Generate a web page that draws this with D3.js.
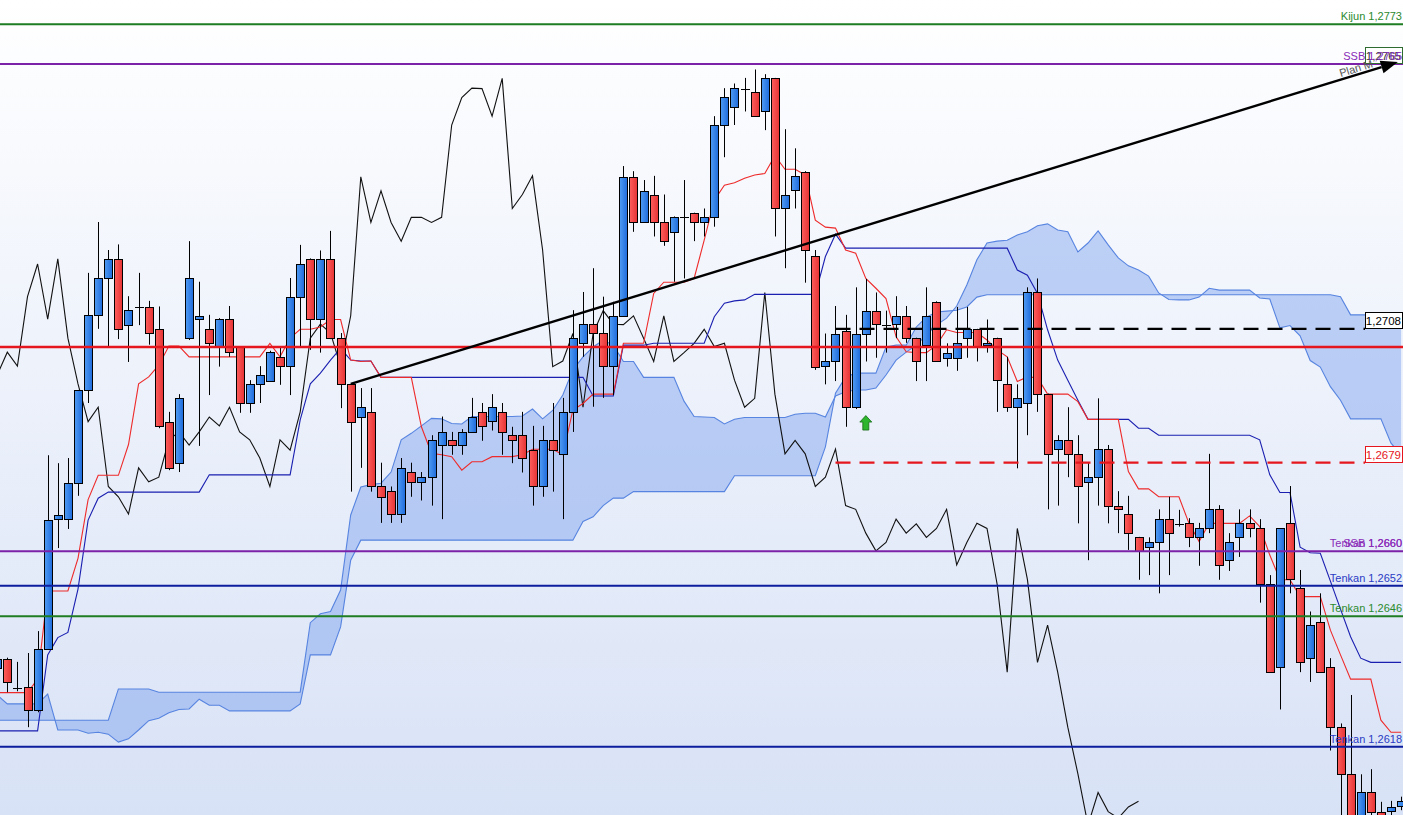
<!DOCTYPE html>
<html>
<head>
<meta charset="utf-8">
<script src="https://cdn.jsdelivr.net/npm/d3@7/dist/d3.min.js"></script>
<style>
html,body{margin:0;padding:0;background:#fff;overflow:hidden;}
svg{display:block;font-family:"Liberation Sans",Arial,sans-serif;}
</style>
</head>
<body>
<svg id="chart" width="1403" height="815"></svg>
<script>
// ---------- DATA ----------
const opens = [
1.26350,1.26369,1.26309,1.26309,1.26260,1.26390,1.26669,1.26669,1.26746,1.26946,
1.27106,1.27186,1.27227,1.27086,1.27124,1.27124,1.27077,1.26878,1.26789,1.27057,
1.27098,1.27077,1.27040,1.27098,1.27038,1.26918,1.26959,1.26966,1.27017,1.26997,
1.27146,1.27227,1.27098,1.27227,1.27057,1.26959,1.26888,1.26899,1.26739,1.26729,
1.26680,1.26770,1.26749,1.26759,1.26828,1.26839,1.26828,1.26856,1.26899,1.26880,
1.26899,1.26849,1.26849,1.26817,1.26739,1.26839,1.26809,1.26899,1.27047,1.27087,
1.27068,1.26997,1.27105,1.27403,1.27305,1.27365,1.27305,1.27285,1.27317,1.27325,
1.27305,1.27316,1.27514,1.27553,1.27593,1.27584,1.27544,1.27614,1.27335,1.27375,
1.27414,1.27234,1.26997,1.27008,1.27072,1.26909,1.27067,1.27116,1.27087,1.27087,
1.27105,1.27057,1.27042,1.27135,1.27015,1.27015,1.27057,1.27076,1.27042,1.27057,
1.26958,1.26909,1.26917,1.27155,1.26937,1.26819,1.26838,1.26809,1.26748,1.26759,
1.26819,1.26698,1.26679,1.26630,1.26609,1.26619,1.26669,1.26660,1.26660,1.26630,
1.26649,1.26690,1.26581,1.26630,1.26660,1.26649,1.26530,1.26351,1.26660,1.26521,
1.26371,1.26449,1.26351,1.26223,1.26123,1.26024,1.26083,1.26042,1.26043,1.26053];
const highs = [
1.26378,1.26372,1.26363,1.26382,1.26429,1.26806,1.26789,1.26800,1.26946,1.27197,
1.27306,1.27246,1.27258,1.27147,1.27197,1.27137,1.27125,1.26899,1.26937,1.27265,
1.27178,1.27107,1.27100,1.27126,1.27040,1.26967,1.26997,1.27030,1.27036,1.27186,
1.27257,1.27228,1.27245,1.27287,1.27068,1.26960,1.26950,1.26950,1.26790,1.26739,
1.26800,1.26790,1.26770,1.26849,1.26889,1.26856,1.26862,1.26929,1.26918,1.26937,
1.26918,1.26867,1.26899,1.26869,1.26869,1.26918,1.26929,1.27117,1.27156,1.27207,
1.27146,1.27135,1.27426,1.27415,1.27396,1.27405,1.27365,1.27318,1.27396,1.27326,
1.27335,1.27533,1.27593,1.27603,1.27615,1.27633,1.27623,1.27615,1.27505,1.27464,
1.27415,1.27246,1.27067,1.27126,1.27107,1.27166,1.27184,1.27155,1.27116,1.27147,
1.27126,1.27058,1.27166,1.27136,1.27046,1.27124,1.27124,1.27077,1.27097,1.27058,
1.27017,1.26958,1.27166,1.27185,1.26938,1.26849,1.26909,1.26849,1.26789,1.26928,
1.26828,1.26729,1.26719,1.26631,1.26630,1.26690,1.26717,1.26689,1.26671,1.26661,
1.26809,1.26699,1.26639,1.26690,1.26690,1.26669,1.26549,1.26650,1.26740,1.26560,
1.26471,1.26510,1.26371,1.26231,1.26292,1.26122,1.26133,1.26063,1.26065,1.26074];
const lows = [
1.26341,1.26298,1.26300,1.26223,1.26255,1.26390,1.26607,1.26648,1.26719,1.26918,
1.27077,1.27040,1.27055,1.27006,1.27085,1.27043,1.26864,1.26774,1.26770,1.27053,
1.26826,1.26935,1.26996,1.27017,1.26897,1.26897,1.26918,1.26965,1.26957,1.26935,
1.27040,1.27032,1.27026,1.27055,1.26907,1.26728,1.26779,1.26728,1.26661,1.26661,
1.26661,1.26717,1.26709,1.26698,1.26669,1.26807,1.26807,1.26855,1.26837,1.26859,
1.26807,1.26789,1.26769,1.26698,1.26717,1.26728,1.26669,1.26856,1.27017,1.26910,
1.26929,1.26935,1.27104,1.27285,1.27304,1.27275,1.27255,1.27178,1.27185,1.27265,
1.27275,1.27296,1.27445,1.27514,1.27543,1.27532,1.27503,1.27275,1.27207,1.27335,
1.27176,1.26989,1.26958,1.26965,1.26867,1.26905,1.27007,1.27015,1.27026,1.27057,
1.27047,1.26965,1.26965,1.27006,1.26996,1.26987,1.27015,1.27007,1.27026,1.26899,
1.26899,1.26778,1.26849,1.26899,1.26690,1.26698,1.26759,1.26660,1.26581,1.26698,
1.26660,1.26639,1.26603,1.26539,1.26549,1.26510,1.26549,1.26653,1.26609,1.26569,
1.26639,1.26539,1.26558,1.26588,1.26630,1.26490,1.26340,1.26261,1.26510,1.26341,
1.26320,1.26340,1.26173,1.26024,1.25981,1.26003,1.26024,1.26013,1.26024,1.26045];
const closes = [
1.26369,1.26320,1.26308,1.26260,1.26390,1.26667,1.26678,1.26746,1.26946,1.27106,
1.27186,1.27227,1.27077,1.27117,1.27123,1.27068,1.26868,1.26778,1.26929,1.27186,
1.27105,1.27047,1.27098,1.27027,1.26918,1.26959,1.26978,1.27027,1.26997,1.27146,
1.27216,1.27098,1.27227,1.27057,1.26959,1.26878,1.26909,1.26739,1.26717,1.26680,
1.26779,1.26749,1.26759,1.26839,1.26856,1.26828,1.26856,1.26888,1.26869,1.26909,
1.26856,1.26839,1.26800,1.26739,1.26839,1.26817,1.26899,1.27057,1.27087,1.27068,
1.26997,1.27105,1.27403,1.27305,1.27373,1.27305,1.27265,1.27316,1.27316,1.27305,
1.27316,1.27514,1.27573,1.27593,1.27592,1.27533,1.27614,1.27335,1.27365,1.27405,
1.27246,1.26996,1.27008,1.27067,1.26909,1.27067,1.27116,1.27087,1.27086,1.27105,
1.27057,1.27007,1.27105,1.27007,1.27026,1.27046,1.27076,1.27039,1.27046,1.26967,
1.26909,1.26928,1.27155,1.26937,1.26809,1.26838,1.26809,1.26739,1.26759,1.26819,
1.26698,1.26690,1.26639,1.26601,1.26619,1.26669,1.26639,1.26659,1.26630,1.26649,
1.26690,1.26571,1.26619,1.26660,1.26649,1.26530,1.26341,1.26649,1.26540,1.26362,
1.26442,1.26341,1.26223,1.26123,1.26013,1.26083,1.26042,1.26028,1.26052,1.26064];
const tenkan = [
1.26297,1.26297,1.26297,1.26297,1.26326,1.26515,1.26515,1.26515,1.26585,1.26711,
1.26763,1.26763,1.26763,1.26829,1.26959,1.26974,1.26999,1.27040,1.27040,1.27017,
1.27017,1.27017,1.27017,1.27017,1.27017,1.27017,1.27017,1.27046,1.27017,1.27057,
1.27076,1.27076,1.27081,1.27097,1.27097,1.27010,1.27007,1.27008,1.26973,1.26973,
1.26973,1.26973,1.26867,1.26810,1.26807,1.26803,1.26774,1.26792,1.26792,1.26803,
1.26803,1.26803,1.26807,1.26819,1.26819,1.26819,1.26807,1.26903,1.26917,1.26937,
1.26937,1.26937,1.27046,1.27046,1.27046,1.27153,1.27177,1.27177,1.27177,1.27185,
1.27267,1.27353,1.27385,1.27390,1.27400,1.27407,1.27410,1.27448,1.27419,1.27419,
1.27407,1.27310,1.27295,1.27293,1.27246,1.27239,1.27185,1.27164,1.27142,1.27060,
1.27028,1.27026,1.27026,1.27042,1.27075,1.27069,1.27069,1.27069,1.27053,1.27032,
1.27017,1.26964,1.26974,1.26972,1.26937,1.26937,1.26937,1.26921,1.26883,1.26883,
1.26883,1.26883,1.26771,1.26734,1.26734,1.26717,1.26717,1.26717,1.26660,1.26621,
1.26660,1.26660,1.26660,1.26660,1.26676,1.26653,1.26592,1.26539,1.26539,1.26503,
1.26503,1.26503,1.26431,1.26378,1.26326,1.26326,1.26326,1.26238,1.26212,1.26212];
const kijun = [
1.26215,1.26215,1.26215,1.26215,1.26215,1.26378,1.26415,1.26426,1.26519,1.26667,
1.26714,1.26727,1.26727,1.26727,1.26727,1.26727,1.26727,1.26727,1.26727,1.26727,
1.26727,1.26764,1.26764,1.26764,1.26764,1.26764,1.26764,1.26764,1.26764,1.26764,
1.26882,1.26959,1.26982,1.27010,1.27035,1.27010,1.27008,1.27008,1.26973,1.26973,
1.26973,1.26973,1.26973,1.26973,1.26973,1.26973,1.26973,1.26973,1.26973,1.26973,
1.26973,1.26973,1.26973,1.26973,1.26973,1.26973,1.26973,1.26973,1.26973,1.26933,
1.26933,1.26933,1.27042,1.27042,1.27042,1.27046,1.27046,1.27046,1.27046,1.27046,
1.27046,1.27103,1.27132,1.27137,1.27139,1.27151,1.27151,1.27151,1.27151,1.27151,
1.27151,1.27151,1.27232,1.27280,1.27250,1.27250,1.27250,1.27250,1.27250,1.27250,
1.27250,1.27250,1.27250,1.27250,1.27250,1.27250,1.27250,1.27250,1.27250,1.27250,
1.27250,1.27203,1.27192,1.27153,1.27075,1.27010,1.26967,1.26924,1.26883,1.26883,
1.26883,1.26883,1.26883,1.26864,1.26864,1.26849,1.26849,1.26849,1.26849,1.26849,
1.26849,1.26849,1.26849,1.26849,1.26849,1.26839,1.26764,1.26726,1.26726,1.26609,
1.26597,1.26596,1.26536,1.26476,1.26417,1.26371,1.26362,1.26362,1.26362,1.26362];
const spanA = [
1.26292,1.26273,1.26273,1.26273,1.26273,1.26294,1.26217,1.26217,1.26217,1.26210,
1.26212,1.26208,1.26191,1.26198,1.26217,1.26237,1.26242,1.26254,1.26261,1.26262,
1.26283,1.26270,1.26270,1.26258,1.26258,1.26258,1.26258,1.26258,1.26258,1.26258,
1.26273,1.26378,1.26378,1.26378,1.26438,1.26581,1.26624,1.26624,1.26624,1.26624,
1.26624,1.26624,1.26624,1.26624,1.26624,1.26624,1.26624,1.26624,1.26624,1.26624,
1.26624,1.26624,1.26624,1.26624,1.26624,1.26624,1.26624,1.26624,1.26664,1.26674,
1.26698,1.26714,1.26714,1.26728,1.26728,1.26728,1.26728,1.26728,1.26728,1.26728,
1.26728,1.26728,1.26728,1.26762,1.26762,1.26762,1.26762,1.26762,1.26762,1.26762,
1.26762,1.26762,1.26824,1.26939,1.26974,1.26982,1.26982,1.26982,1.27038,1.27042,
1.27042,1.27081,1.27102,1.27113,1.27115,1.27117,1.27124,1.27145,1.27150,1.27150,
1.27150,1.27150,1.27150,1.27150,1.27150,1.27150,1.27150,1.27150,1.27150,1.27150,
1.27150,1.27150,1.27150,1.27150,1.27150,1.27150,1.27150,1.27150,1.27150,1.27150,
1.27150,1.27150,1.27150,1.27150,1.27150,1.27150,1.27150,1.27150,1.27150,1.27150,
1.27150,1.27150,1.27150,1.27146,1.27107,1.27107,1.27107,1.27107,1.27107,1.27107];
const spanB = [
1.26238,1.26238,1.26238,1.26238,1.26238,1.26238,1.26238,1.26238,1.26238,1.26238,
1.26238,1.26238,1.26305,1.26305,1.26305,1.26305,1.26298,1.26298,1.26298,1.26298,
1.26298,1.26298,1.26298,1.26298,1.26298,1.26298,1.26298,1.26298,1.26298,1.26298,
1.26298,1.26447,1.26466,1.26471,1.26517,1.26678,1.26738,1.26743,1.26746,1.26770,
1.26839,1.26853,1.26869,1.26885,1.26884,1.26874,1.26873,1.26889,1.26889,1.26889,
1.26889,1.26889,1.26890,1.26905,1.26884,1.26902,1.26935,1.26989,1.27017,1.27038,
1.27053,1.27042,1.27007,1.27007,1.26973,1.26973,1.26973,1.26973,1.26922,1.26889,
1.26888,1.26887,1.26873,1.26883,1.26887,1.26887,1.26887,1.26887,1.26887,1.26894,
1.26896,1.26896,1.26888,1.26933,1.26942,1.26946,1.26946,1.26950,1.26978,1.27010,
1.27027,1.27042,1.27064,1.27085,1.27100,1.27126,1.27171,1.27225,1.27261,1.27265,
1.27267,1.27278,1.27285,1.27298,1.27302,1.27289,1.27285,1.27242,1.27261,1.27287,
1.27257,1.27229,1.27212,1.27203,1.27190,1.27154,1.27140,1.27139,1.27139,1.27145,
1.27164,1.27160,1.27160,1.27160,1.27160,1.27143,1.27141,1.27079,1.27084,1.27062,
1.27009,1.26995,1.26953,1.26924,1.26884,1.26884,1.26884,1.26884,1.26832,1.26807];
const chikouLag = 26;

// horizontal levels
const levelValues = [1.27730, 1.27645, 1.27038, 1.26600, 1.26526, 1.26461, 1.26181];
const levelLabels = ["Kijun 1,2773", "SSB 1,2765", "", "Tenkan 1,2660", "Tenkan 1,2652", "Tenkan 1,2646", "Tenkan 1,2618"];
const extraLevelLabels = [{value: 1.26600, text: "SSB 1,2660"}];
// price tags (boxes) and dashed lines
const tagValues = [1.27645, 1.27077, 1.26790];
const tagLabels = ["1,2765", "1,2708", "1,2679"];
const dashedStartIndex = 83;
// annotations
const trendFrom = {index: 35, price: 1.26959};
const trendTo = {index: 138.68, price: 1.27649};
const trendText = "Plan M";
const signal = {index: 86, price: 1.26875};

// ---------- DRAW ----------
const W = 1403, H = 815;
const svg = d3.select("#chart");
const defs = svg.append("defs");
const bg = defs.append("linearGradient").attr("id","bg").attr("x1",0).attr("y1",0).attr("x2",0).attr("y2",1);
bg.append("stop").attr("offset","0%").attr("stop-color","#ffffff");
bg.append("stop").attr("offset","100%").attr("stop-color","#d8e2f6");
const gb = defs.append("linearGradient").attr("id","gBlue").attr("x1",0).attr("y1",0).attr("x2",1).attr("y2",0);
gb.append("stop").attr("offset","0%").attr("stop-color","#4f9cf4");
gb.append("stop").attr("offset","100%").attr("stop-color","#1f6bdc");
const gr = defs.append("linearGradient").attr("id","gRed").attr("x1",0).attr("y1",0).attr("x2",1).attr("y2",0);
gr.append("stop").attr("offset","0%").attr("stop-color","#ff5e5e");
gr.append("stop").attr("offset","100%").attr("stop-color","#e53333");

svg.append("rect").attr("width",W).attr("height",H).attr("fill","url(#bg)");

const x = d3.scaleLinear().domain([0, 139]).range([-2.8, 1401.1]);
const y = d3.scaleLinear().domain([1.26, 1.27782]).range([831.2, 0]);
const idx = d3.range(opens.length);

// cloud
svg.append("path").datum(idx)
  .attr("d", d3.area().x(i=>x(i)).y0(i=>y(spanA[i])).y1(i=>y(spanB[i])))
  .attr("fill","#7099ec").attr("fill-opacity",0.42);
[spanA, spanB].forEach(s => {
  svg.append("path").datum(idx)
    .attr("d", d3.line().x(i=>x(i)).y(i=>y(s[i])))
    .attr("fill","none").attr("stroke","#5784e0").attr("stroke-width",1.1);
});

// chikou (close shifted back)
svg.append("path").datum(d3.range(closes.length - chikouLag))
  .attr("d", d3.line().x(j=>x(j)).y(j=>y(closes[j + chikouLag])))
  .attr("fill","none").attr("stroke","#111").attr("stroke-width",1.1);
// kijun
svg.append("path").datum(idx)
  .attr("d", d3.line().x(i=>x(i)).y(i=>y(kijun[i])))
  .attr("fill","none").attr("stroke","#1a1fb0").attr("stroke-width",1.1);
// tenkan
svg.append("path").datum(idx)
  .attr("d", d3.line().x(i=>x(i)).y(i=>y(tenkan[i])))
  .attr("fill","none").attr("stroke","#ee2a2a").attr("stroke-width",1.1);

// candles
const bw = Math.round((x(1) - x(0)) * 0.8);
const cg = svg.append("g");
idx.forEach(i => {
  const o = opens[i], c = closes[i], h = highs[i], l = lows[i];
  const cx = Math.round(x(i)) + 0.5;
  cg.append("line").attr("x1",cx).attr("x2",cx).attr("y1",y(h)).attr("y2",y(l))
    .attr("stroke","#000").attr("stroke-width",1);
  const top = Math.round(y(Math.max(o,c))) + 0.5;
  const bot = Math.round(y(Math.min(o,c))) + 0.5;
  const doji = Math.abs(o - c) < 0.00003;
  cg.append("rect")
    .attr("x", Math.round(x(i) - bw/2) + 0.5).attr("y", doji ? Math.round(y(c)) + 0.5 : top)
    .attr("width", bw).attr("height", doji ? 0.01 : Math.max(1, bot - top))
    .attr("fill", doji ? "none" : (c > o ? "url(#gBlue)" : "url(#gRed)"))
    .attr("stroke","#000").attr("stroke-width",1);
});

// horizontal levels
const levelColors = ["#1e7d22","#7b22a8","#e5161d","#7b22a8","#0c1d9e","#1e7d22","#0c1d9e"];
const levelText = ["#2a8a2e","#8a2bb8","#e5161d","#8a2bb8","#2a3bc4","#2a8a2e","#2a3bc4"];
const levelWidth = [2,2,2.6,2,2,2,2];
levelValues.forEach((v,k) => {
  svg.append("line").attr("x1",0).attr("x2",W).attr("y1",y(v)).attr("y2",y(v))
    .attr("stroke",levelColors[k]).attr("stroke-width",levelWidth[k]);
});

// dashed lines
const tagColors = ["#2e6b2e","#000000","#e5161d"];
tagValues.forEach((v,k) => {
  if (k === 0) return;
  svg.append("line").attr("x1",x(dashedStartIndex)).attr("x2",W - 38).attr("y1",y(v)).attr("y2",y(v))
    .attr("stroke",tagColors[k]).attr("stroke-width",2.2).attr("stroke-dasharray","15,9");
});
// price tag boxes
tagValues.forEach((v,k) => {
  const yy = y(v);
  svg.append("rect").attr("x",W-37.5).attr("y",Math.round(yy)-16.5).attr("width",37).attr("height",16)
    .attr("fill","#ffffff").attr("stroke",tagColors[k]).attr("stroke-width",1);
  svg.append("text").attr("x",W-2).attr("y",Math.round(yy)-4).attr("text-anchor","end")
    .attr("font-size",11.5).attr("fill", k===0 ? "#333" : tagColors[k]).text(tagLabels[k]);
});
// level labels
levelValues.forEach((v,k) => {
  if (!levelLabels[k]) return;
  svg.append("text").attr("x",W-1).attr("y",y(v)-4).attr("text-anchor","end")
    .attr("font-size",11).attr("fill",levelText[k]).text(levelLabels[k]);
});
extraLevelLabels.forEach(d => {
  svg.append("text").attr("x",W-1).attr("y",y(d.value)-4).attr("text-anchor","end")
    .attr("font-size",11).attr("fill","#8a2bb8").text(d.text);
});

// trend arrow
const x0 = x(trendFrom.index), y0 = y(trendFrom.price);
const x1 = x(trendTo.index), y1 = y(trendTo.price);
const ang = Math.atan2(y1 - y0, x1 - x0);
const hl = 17, hw = 6.5;
const bx = x1 - hl*Math.cos(ang), by = y1 - hl*Math.sin(ang);
svg.append("line").attr("x1",x0).attr("y1",y0).attr("x2",bx).attr("y2",by)
  .attr("stroke","#000").attr("stroke-width",2.4);
svg.append("path")
  .attr("d", `M${x1},${y1} L${bx + hw*Math.sin(ang)},${by - hw*Math.cos(ang)} L${bx - hw*Math.sin(ang)},${by + hw*Math.cos(ang)} Z`)
  .attr("fill","#000");
const deg = ang * 180 / Math.PI;
const tx = x1 - 57, ty = y1 + 15;
svg.append("text").attr("x",tx).attr("y",ty).attr("font-size",11).attr("fill","#555")
  .attr("transform",`rotate(${deg},${tx},${ty})`).text(trendText);

// signal arrow
const sx = x(signal.index), sy = y(signal.price);
const pts = [[0,-7.5],[6,-1],[3,-1],[3,7],[-3,7],[-3,-1],[-6,-1]];
svg.append("path").attr("d","M"+pts.map(p=>(sx+p[0])+","+(sy+p[1])).join("L")+"Z")
  .attr("fill","#2db52d").attr("stroke","#176b17").attr("stroke-width",0.8);
</script>
</body>
</html>
